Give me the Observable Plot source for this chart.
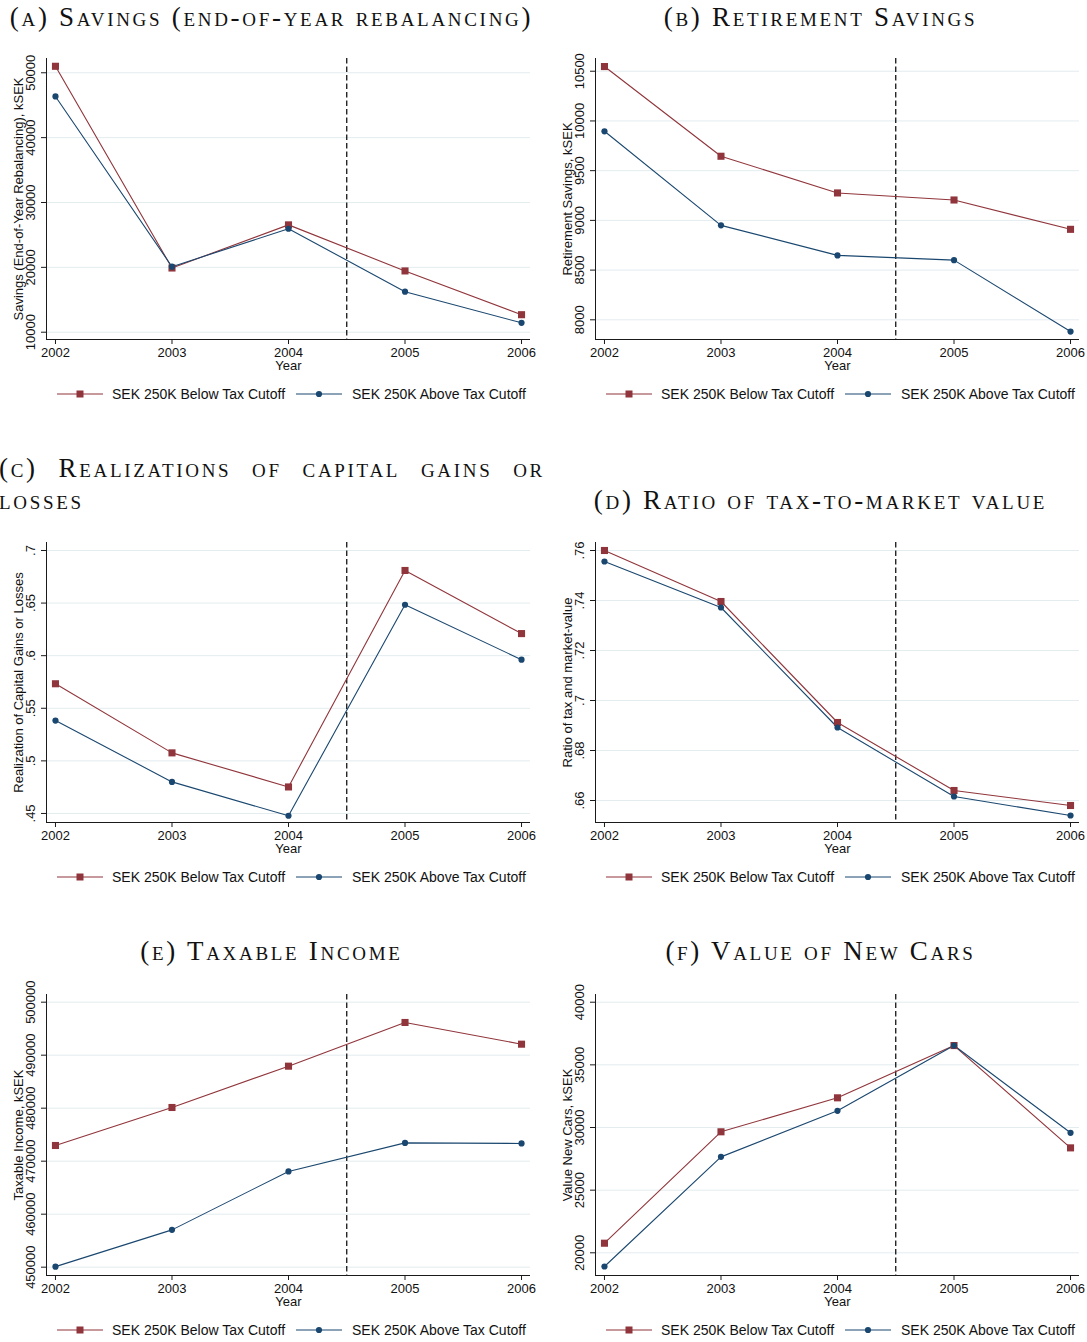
<!DOCTYPE html>
<html><head><meta charset="utf-8">
<script src="https://cdn.jsdelivr.net/npm/d3@7"></script>
<script src="https://cdn.jsdelivr.net/npm/@observablehq/plot@0.6"></script>
<style>
body{margin:0;background:#fff;}
#root{position:relative;width:1087px;height:1342px;overflow:hidden;background:#fff;}
.title{position:absolute;font-family:"Liberation Serif","Times New Roman",serif;font-variant:small-caps;font-size:27px;letter-spacing:2.7px;line-height:32px;color:#111;white-space:nowrap;text-align:center;}
.title.just{white-space:normal;text-align:justify;text-align-last:left;}
.legend{position:absolute;display:flex;align-items:center;font-family:"Liberation Sans",Arial,sans-serif;font-size:14px;color:#111;white-space:nowrap;height:16px;}
.plotbox{position:absolute;width:543px;}
.plotbox svg{overflow:visible;max-width:none;}
</style></head><body><div id="root"></div>
<script>
// ---------- data ----------
const years = [2002, 2003, 2004, 2005, 2006];
const cutoffYear = 2004.5;
const seriesNames = ["SEK 250K Below Tax Cutoff", "SEK 250K Above Tax Cutoff"];

const savingsBelow = [51000, 19900, 26550, 19450, 12700];
const savingsAbove = [46350, 20100, 25950, 16250, 11450];
const savingsTicks = [10000, 20000, 30000, 40000, 50000];

const retirementBelow = [10547, 9645, 9276, 9205, 8910];
const retirementAbove = [9896, 8950, 8648, 8600, 7882];
const retirementTicks = [8000, 8500, 9000, 9500, 10000, 10500];

const realizBelow = [0.5733, 0.5076, 0.4752, 0.681, 0.621];
const realizAbove = [0.5383, 0.480, 0.4478, 0.6484, 0.5962];
const realizTicks = [0.45, 0.5, 0.55, 0.6, 0.65, 0.7];

const ratioBelow = [0.760, 0.7396, 0.6912, 0.664, 0.658];
const ratioAbove = [0.7556, 0.7372, 0.6892, 0.6616, 0.654];
const ratioTicks = [0.66, 0.68, 0.70, 0.72, 0.74, 0.76];

const incomeBelow = [472960, 480130, 487925, 496170, 492075];
const incomeAbove = [450100, 457040, 468060, 473450, 473350];
const incomeTicks = [450000, 460000, 470000, 480000, 490000, 500000];

const carsBelow = [20766, 29657, 32370, 36540, 28375];
const carsAbove = [18907, 27657, 31333, 36540, 29577];
const carsTicks = [20000, 25000, 30000, 35000, 40000];

// ---------- styling ----------
const maroon = "#90353b", navy = "#1a476f";
const gridColor = "#e3ecef", axisColor = "#1a1a1a";
const xDomain = [2001.923, 2006.077];
const stataFmt = d => String(d).replace(/^0\./, ".");

const panels = [
  {title: "(a) Savings (end-of-year rebalancing)", left: 0, titleTop: 1, top: 58, bottom: 339,
   below: savingsBelow, above: savingsAbove, ticks: savingsTicks, domain: [8877, 52200],
   ylabel: "Savings (End-of-Year Rebalancing), kSEK"},
  {title: "(b) Retirement Savings", left: 549, titleTop: 1, top: 58, bottom: 339,
   below: retirementBelow, above: retirementAbove, ticks: retirementTicks, domain: [7802, 10628],
   ylabel: "Retirement Savings, kSEK"},
  {title: "(c) Realizations of capital gains or losses", left: -1, titleTop: 452, just: true, top: 542, bottom: 822,
   below: realizBelow, above: realizAbove, ticks: realizTicks, domain: [0.4414, 0.7076],
   ylabel: "Realization of Capital Gains or Losses"},
  {title: "(d) Ratio of tax-to-market value", left: 549, titleTop: 484, top: 542, bottom: 822,
   below: ratioBelow, above: ratioAbove, ticks: ratioTicks, domain: [0.6512, 0.7632],
   ylabel: "Ratio of tax and market-value"},
  {title: "(e) Taxable Income", left: 0, titleTop: 935, top: 994, bottom: 1275,
   below: incomeBelow, above: incomeAbove, ticks: incomeTicks, domain: [448430, 501450],
   ylabel: "Taxable Income, kSEK"},
  {title: "(f) Value of New Cars", left: 549, titleTop: 935, top: 994, bottom: 1275,
   below: carsBelow, above: carsAbove, ticks: carsTicks, domain: [18189, 40615],
   ylabel: "Value New Cars, kSEK"}
];

const root = document.getElementById("root");

function chart(p) {
  const mt = 12, mb = 40, ml = 46, mr = 13, W = 543;
  const H = mt + (p.bottom - p.top) + mb;
  const below = years.map((yr, i) => ({year: yr, value: p.below[i]}));
  const above = years.map((yr, i) => ({year: yr, value: p.above[i]}));
  return Plot.plot({
    width: W, height: H, marginTop: mt, marginBottom: mb, marginLeft: ml, marginRight: mr,
    style: {fontFamily: "'Liberation Sans', Arial, sans-serif", fontSize: "13px", color: "#111", background: "transparent", overflow: "visible", maxWidth: "none"},
    x: {domain: xDomain},
    y: {domain: p.domain},
    marks: [
      Plot.gridY({ticks: p.ticks, stroke: gridColor, strokeOpacity: 1, strokeWidth: 1}),
      Plot.ruleX([cutoffYear], {stroke: "#000", strokeDasharray: "5.5,3", strokeWidth: 1.2}),
      Plot.ruleX([xDomain[0]], {stroke: axisColor, strokeWidth: 1}),
      Plot.ruleY([p.domain[0]], {stroke: axisColor, strokeWidth: 1}),
      Plot.axisX({ticks: years, tickFormat: d => String(d), tickSize: 5, tickPadding: 3, label: null, stroke: axisColor, fill: "#111"}),
      Plot.axisY({ticks: p.ticks, tickFormat: stataFmt, tickSize: 5, tickPadding: 6.5, tickRotate: -90, label: null, stroke: axisColor, fill: "#111"}),
      Plot.text([p.ylabel], {text: d => d, frameAnchor: "left", dx: -28, rotate: -90, lineAnchor: "middle", textAnchor: "middle", fill: "#111"}),
      Plot.text(["Year"], {text: d => d, frameAnchor: "bottom", dy: 30, fill: "#111"}),
      Plot.line(below, {x: "year", y: "value", stroke: maroon, strokeWidth: 1.1}),
      Plot.line(above, {x: "year", y: "value", stroke: navy, strokeWidth: 1.1}),
      Plot.dot(below, {x: "year", y: "value", symbol: "square", r: 4, fill: maroon}),
      Plot.dot(above, {x: "year", y: "value", symbol: "circle", r: 3.1, fill: navy})
    ]
  });
}

function sample(color, shape) {
  const m = shape === "square"
    ? `<rect x="19.5" y="3.5" width="7" height="7" fill="${color}"/>`
    : `<circle cx="23" cy="7" r="3.1" fill="${color}"/>`;
  return `<svg width="46" height="14" style="display:block"><line x1="0" y1="7" x2="46" y2="7" stroke="${color}" stroke-width="1.1"/>${m}</svg>`;
}

for (const p of panels) {
  const t = document.createElement("div");
  t.className = "title" + (p.just ? " just" : "");
  t.textContent = p.title;
  t.style.left = p.left + "px";
  t.style.top = p.titleTop + "px";
  t.style.width = (p.just ? 546 : 543) + "px";
  root.appendChild(t);

  const colLeft = p.left < 0 ? 0 : p.left;
  const box = document.createElement("div");
  box.className = "plotbox";
  box.style.left = colLeft + "px";
  box.style.top = (p.top - 12) + "px";
  box.appendChild(chart(p));
  root.appendChild(box);

  const lg = document.createElement("div");
  lg.className = "legend";
  lg.style.left = (colLeft + 57) + "px";
  lg.style.top = (p.bottom + 55 - 8) + "px";
  lg.innerHTML = `${sample(maroon, "square")}<span style="margin-left:9px">${seriesNames[0]}</span>` +
                 `<span style="margin-left:11px">${sample(navy, "circle")}</span><span style="margin-left:10px">${seriesNames[1]}</span>`;
  root.appendChild(lg);
}
</script></body></html>
